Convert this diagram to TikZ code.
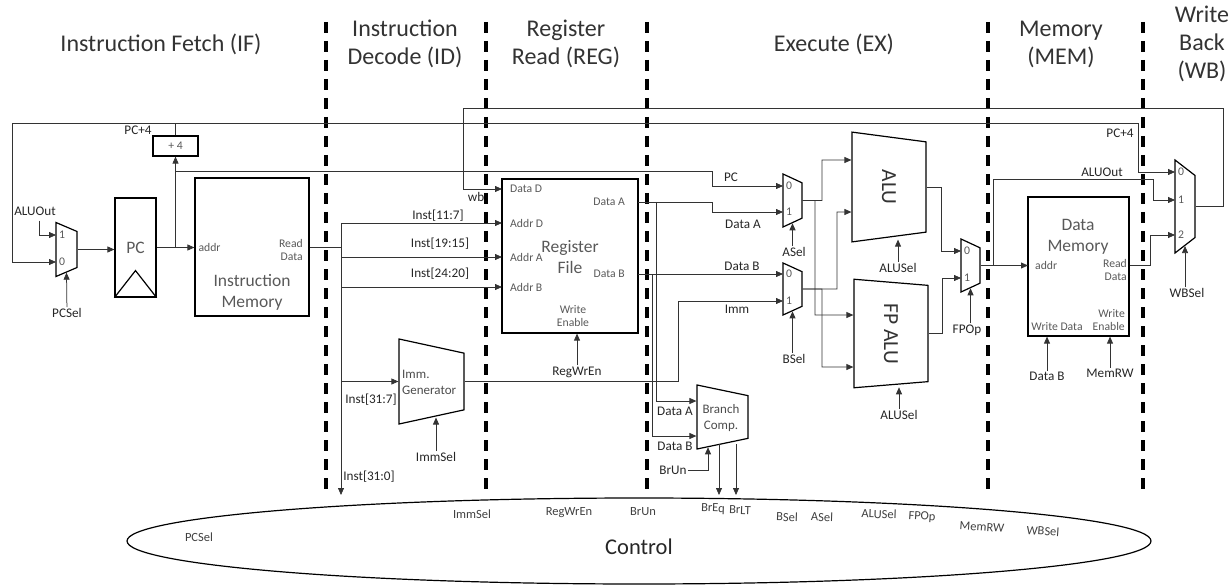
\documentclass[tikz,border=0pt]{standalone}
\usepackage{fontspec}
\setmainfont{Carlito}
\usetikzlibrary{shapes.geometric,arrows.meta}

\begin{document}
\begin{tikzpicture}[x=1pt, y=-1pt,
  every node/.style={inner sep=1pt, text=black!85},
  title/.style={font=\fontsize{24}{28}\selectfont, text=black!80, align=center},
  big/.style={font=\fontsize{17.5}{21}\selectfont, text=black!65, align=center},
  mid/.style={font=\fontsize{13}{16}\selectfont, text=black!70, align=center},
  lbl/.style={font=\fontsize{13.2}{15}\selectfont},
  port/.style={font=\fontsize{11.7}{13.5}\selectfont, text=black!65},
  sel/.style={port, anchor=west, inner xsep=3pt},
  ctl/.style={font=\fontsize{12.5}{14}\selectfont, text=black!75},
  alut/.style={font=\fontsize{21.5}{24}\selectfont, text=black!80},
  blk/.style={draw=black, line width=1.2pt, inner sep=0},
  trap/.style={draw=black, line width=1.2pt, trapezium, trapezium stretches=true,
    trapezium left angle=76, trapezium right angle=76, rotate=-90, inner sep=1pt},
  wire/.style={draw=black!80, line width=0.75pt},
  arr/.style={wire, -{Triangle[length=7pt,width=6pt]}},
  stage/.style={line width=3.2pt, dash pattern=on 11pt off 8pt}]
\useasboundingbox (0,0) rectangle (1230,585);

\node[title] (tif) at (161,44) {Instruction Fetch (IF)};
\node[title] (tid) at (405,44) {Instruction\\Decode (ID)};
\node[title] (treg) at (566,44) {Register\\Read (REG)};
\node[title] (tex) at (834,44) {Execute (EX)};
\node[title] (tmem) at (1061,44) {Memory\\(MEM)};
\node[title] (twb) at (1202,44) {Write\\Back\\(WB)};
\foreach \x in {326,486,647,988,1143}
  \draw[stage] (\x,22) -- (\x,490);

\node[trap, minimum width=54, minimum height=21] (pcmux) at (66.5,249.5) {};
\node[sel] (pc1) at (56,235) {1};
\node[sel] (pc0) at (56,262) {0};
\node[lbl] (aluo) at (35,211) {ALUOut};
\node[lbl] (pcsel) at (67,313) {PCSel};
\node[blk, minimum width=41, minimum height=99, big] (pc) at (135.5,247.5) {PC};
\draw[line width=1.2pt] (pc.south west) -- ([yshift=27pt]pc.south) -- (pc.south east);
\node[blk, minimum width=45, minimum height=20, port] (add4) at (175.5,146) {+ 4};
\node[blk, minimum width=114, minimum height=138] (imem) at (252,247) {};
\node[port, anchor=west, inner xsep=4pt] (iaddr) at (imem.west) {addr};
\node[port, anchor=east, align=right, inner xsep=6pt] (ird) at (309,250) {Read\\Data};
\node[big] (imemt) at (252,292) {Instruction\\Memory};
\node[lbl] (pc4l) at (138,130) {PC+4};

\coordinate (ibus) at (341,247);
\coordinate (iend) at (341,495);
\node[trap, minimum width=85, minimum height=65] (immgen) at (431.5,381.5) {};
\node[mid, anchor=west, align=left] (immt) at (401,382) {Imm.\\Generator};
\node[lbl] (immsel) at (436,457) {ImmSel};
\node[lbl] (i117) at (438,216) {Inst[11:7]};
\node[lbl] (i1915) at (440,244) {Inst[19:15]};
\node[lbl] (i2420) at (440,274) {Inst[24:20]};
\node[lbl] (i317) at (371,400) {Inst[31:7]};
\node[lbl] (i310) at (369,477) {Inst[31:0]};

\node[blk, minimum width=136, minimum height=154] (rf) at (570,256) {};
\node[port, anchor=west, inner xsep=8pt] (rdd) at (502,189) {Data D};
\node[port, anchor=west, inner xsep=8pt] (raddd) at (502,223) {Addr D};
\node[port, anchor=west, inner xsep=8pt] (radda) at (502,257) {Addr A};
\node[port, anchor=west, inner xsep=8pt] (raddb) at (502,287) {Addr B};
\node[port, anchor=east, inner xsep=13pt] (rda) at (638,202) {Data A};
\node[port, anchor=east, inner xsep=13pt] (rdb) at (638,274) {Data B};
\node[big] (rft) at (570,257) {Register\\File};
\node[port, align=center] (rwe) at (573,316) {Write\\Enable};
\node[lbl] (rwen) at (577,372) {RegWrEn};
\node[lbl] (wbl) at (476,197) {wb};

\node[trap, minimum width=53, minimum height=19] (amux) at (792.5,200.5) {};
\node[trap, minimum width=52, minimum height=19] (bmux) at (792.5,289) {};
\node[sel] (a0) at (783,186) {0};
\node[sel] (a1) at (783,212) {1};
\node[sel] (b0) at (783,274) {0};
\node[sel] (b1) at (783,301) {1};
\node[lbl] (asel) at (794,252) {ASel};
\node[lbl] (bsel) at (794,359) {BSel};
\node[lbl] (pcl) at (731,177) {PC};
\node[lbl] (dal) at (743,224) {Data A};
\node[lbl] (dbl) at (742,266) {Data B};
\node[lbl] (imml) at (737,309) {Imm};

\node[trap, minimum width=64, minimum height=51] (brc) at (722.5,417) {};
\node[mid] (brct) at (721,418) {Branch\\Comp.};
\node[lbl] (bcal) at (675,411) {Data A};
\node[lbl] (bcbl) at (675,446) {Data B};
\node[lbl] (brun) at (673,470) {BrUn};
\coordinate (breq) at (719,495);
\coordinate (brlt) at (736,495);

\node[trap, minimum width=110, minimum height=74, alut] (alu) at (889,187) {ALU};
\node[trap, minimum width=109, minimum height=74, alut] (fpalu) at (891,333.5) {FP ALU};
\node[lbl] (alus1) at (898,268) {ALUSel};
\node[lbl] (alus2) at (899,415) {ALUSel};

\node[trap, minimum width=53, minimum height=19] (fmux) at (970.5,265.5) {};
\node[sel] (f0) at (961,251) {0};
\node[sel] (f1) at (961,278) {1};
\node[lbl] (fpop) at (967,330) {FPOp};

\node[blk, minimum width=101, minimum height=139] (dmem) at (1078.5,266.5) {};
\node[big] (dmemt) at (1078,237) {Data\\Memory};
\node[port, anchor=west, inner xsep=7pt] (daddr) at (1028,265) {addr};
\node[port, anchor=east, align=right, inner xsep=2pt] (drd) at (1129,270) {Read\\Data};
\node[port] (dwd) at (1057,327) {Write Data};
\node[port, anchor=east, align=right, inner xsep=4pt] (dwe) at (1129,320) {Write\\Enable};
\node[lbl] (dmb) at (1047,376) {Data B};
\node[lbl] (mrw) at (1110,373) {MemRW};
\node[lbl] (aluol) at (1102,172) {ALUOut};
\node[lbl] (pc4r) at (1120,133) {PC+4};

\node[trap, minimum width=93, minimum height=20] (wbmux) at (1185,206.5) {};
\node[sel] (wb0) at (1175,172) {0};
\node[sel] (wb1) at (1175,200) {1};
\node[sel] (wb2) at (1175,235) {2};
\node[lbl] (wbsel) at (1187,293) {WBSel};

\node[draw, ellipse, line width=1.2pt, inner sep=1pt, minimum width=1024, minimum height=86] (ctrl) at (639,541) {};
\node[font=\fontsize{22.5}{26}\selectfont] (ctrlt) at (639,547) {Control};
\node[ctl] (cpcsel) at (199,537) {PCSel};
\node[ctl] (cimmsel) at (472,514) {ImmSel};
\node[ctl] (cregwr) at (569,513) {RegWrEn};
\node[ctl] (cbrun) at (643,512) {BrUn};
\node[ctl, rotate=-2] (cbreq) at (713,509) {BrEq};
\node[ctl, rotate=-2] (cbrlt) at (740,510) {BrLT};
\node[ctl, rotate=-2] (cbsel) at (787,517) {BSel};
\node[ctl, rotate=-2] (casel) at (822,517) {ASel};
\node[ctl, rotate=-2] (calusel) at (879,514) {ALUSel};
\node[ctl, rotate=-4] (cfpop) at (922,517) {FPOp};
\node[ctl, rotate=-4] (cmemrw) at (982,527) {MemRW};
\node[ctl, rotate=-4] (cwbsel) at (1043,531) {WBSel};

\draw[arr] ([shift={(4,4)}]aluo.south) |- (pc1.west);
\draw[arr] (pcsel) -- (pcmux.east);
\draw[arr] (pcmux.north) -- (pcmux.north -| pc.west);
\draw[arr] (pc.east) -- (pc.east -| iaddr.west);
\draw[arr] (pc.east -| add4) -- (add4.south);
\draw[arr] (add4.north) |- (12,123) |- (pc0.west);
\draw[arr] (add4.north) |- (1138,123) |- (wb0.west);
\draw[arr] (add4 |- 0,171) -| (712,186) -- (a0.west);
\draw[arr] (imem.east) -| (341,223) -- (raddd.west);
\draw[arr] (ibus) |- (radda.west);
\draw[arr] (ibus) |- (raddb.west);
\draw[arr] (ibus) |- (immgen.south);
\draw[arr] (ibus) -- (iend);
\draw[arr] (immsel) -- (immsel |- immgen.east);
\draw[arr] (rwen) -- (rwen |- rf.south);
\draw[arr] (rda.east) -| (712,212) -- (a1.west);
\draw[arr] (rdb.east) -- (b0.west);
\draw[arr] (immgen.north) -| (678,301) -- (b1.west);
\draw[arr] (asel.north -| amux.east) -- (amux.east);
\draw[arr] (bsel.north -| bmux.east) -- (bmux.east);
\draw[arr] (rda.east -| 656,0) |- ([yshift=16pt]brc.south);
\draw[arr] (rdb.east -| 652,0) |- ([yshift=-19pt]brc.south);
\draw[arr, shorten >=3pt] (brun.east) -| ([xshift=-14.5pt]brc.east);
\draw[arr] (breq |- brc.east) -- (breq);
\draw[arr] (brlt |- brc.east) -- (brlt);
\draw[arr] (amux.north) -| (822,160) -- ([yshift=27pt]alu.south);
\draw[arr] (amux.north) -| (815,315) -- ([yshift=18.5pt]fpalu.south);
\draw[arr] (bmux.north) -| (837,212) -- ([yshift=-25pt]alu.south);
\draw[arr] (bmux.north) -| (822,367) -- ([yshift=-33.5pt]fpalu.south);
\draw[arr, shorten >=2pt] (alus1) -- (alus1 |- alu.east);
\draw[arr, shorten >=2pt] (alus2) -- (alus2 |- fpalu.east);
\draw[arr] (alu.north) -| (941,251) -- (f0.west);
\draw[arr] (fpalu.north) -| (942,278) -- (f1.west);
\draw[arr] (fpop.north -| fmux.east) -- (fmux.east);
\draw[arr] (dmb) -- (dmb |- dmem.south);
\draw[arr] (mrw) -- (mrw |- dmem.south);
\draw[arr] (fmux.north) -- (fmux.north -| daddr.west);
\draw[arr] (fmux.north -| 993,0) |- (1153,179) |- (wb1.west);
\draw[arr] (dmem.east |- daddr) -| (1150,235) -- (wb2.west);
\draw[arr] (wbsel.north -| wbmux.east) -- (wbmux.east);
\draw[arr] (wbmux.north) -| (1223,108) -| (463,189) -- (rdd.west);
\end{tikzpicture}
\end{document}
